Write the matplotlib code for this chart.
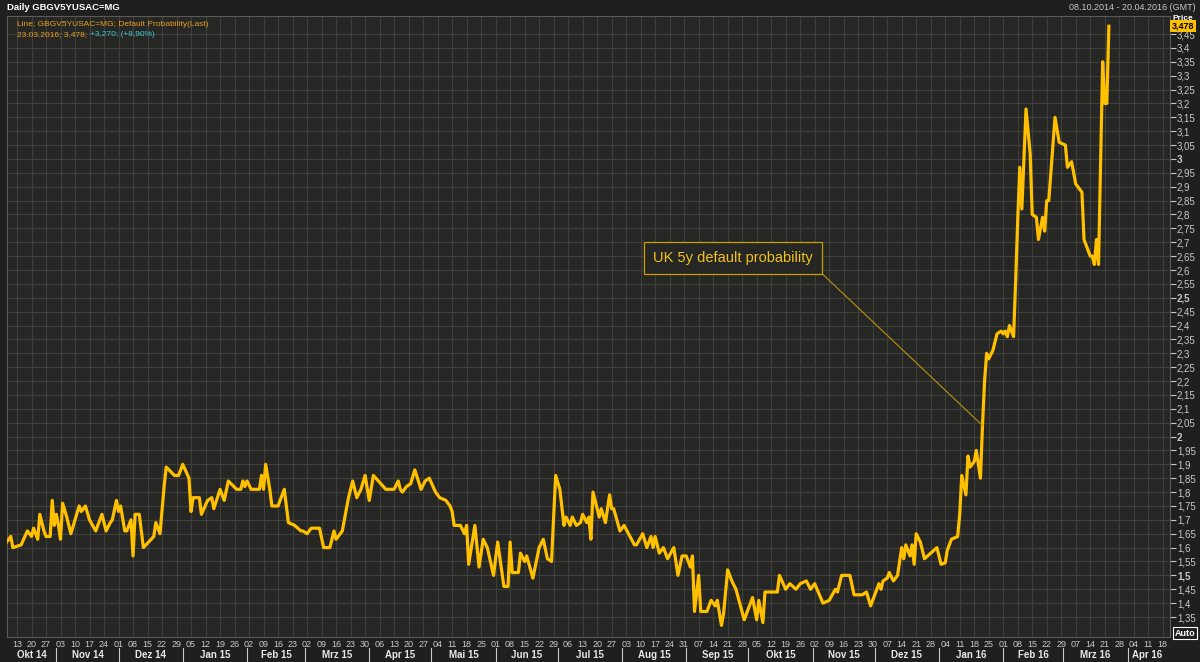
import matplotlib
matplotlib.use('Agg')
import matplotlib.pyplot as plt
import matplotlib.dates as mdates
import matplotlib.transforms as mtransforms
import numpy as np
import pandas as pd

# UK 5y CDS implied default probability
dates = [
    '2014-10-08', '2014-10-10', '2014-10-11', '2014-10-15', '2014-10-18', '2014-10-20',
    '2014-10-21', '2014-10-23', '2014-10-24', '2014-10-26', '2014-10-27', '2014-10-29',
    '2014-10-30', '2014-10-31', '2014-11-01', '2014-11-02', '2014-11-03', '2014-11-04',
    '2014-11-06', '2014-11-08', '2014-11-12', '2014-11-13', '2014-11-15', '2014-11-17',
    '2014-11-20', '2014-11-23', '2014-11-25', '2014-11-27', '2014-11-28', '2014-11-30',
    '2014-12-01', '2014-12-02', '2014-12-04', '2014-12-05', '2014-12-07', '2014-12-08',
    '2014-12-09', '2014-12-11', '2014-12-13', '2014-12-18', '2014-12-19', '2014-12-21',
    '2014-12-23', '2014-12-24', '2014-12-28', '2014-12-30', '2015-01-01', '2015-01-04',
    '2015-01-05', '2015-01-06', '2015-01-09', '2015-01-10', '2015-01-13', '2015-01-15',
    '2015-01-16', '2015-01-19', '2015-01-21', '2015-01-23', '2015-01-27', '2015-01-29',
    '2015-01-30', '2015-01-31', '2015-02-01', '2015-02-03', '2015-02-07', '2015-02-08',
    '2015-02-09', '2015-02-10', '2015-02-12', '2015-02-13', '2015-02-16', '2015-02-19',
    '2015-02-21', '2015-02-24', '2015-02-27', '2015-02-28', '2015-03-02', '2015-03-04',
    '2015-03-08', '2015-03-10', '2015-03-13', '2015-03-15', '2015-03-16', '2015-03-19',
    '2015-03-22', '2015-03-24', '2015-03-26', '2015-03-28', '2015-03-30', '2015-04-01',
    '2015-04-03', '2015-04-09', '2015-04-13', '2015-04-15', '2015-04-16', '2015-04-17',
    '2015-04-19', '2015-04-21', '2015-04-23', '2015-04-26', '2015-04-28', '2015-04-30',
    '2015-05-03', '2015-05-05', '2015-05-08', '2015-05-10', '2015-05-11', '2015-05-12',
    '2015-05-15', '2015-05-17', '2015-05-18', '2015-05-19', '2015-05-22', '2015-05-24',
    '2015-05-26', '2015-05-28', '2015-05-31', '2015-06-02', '2015-06-05', '2015-06-07',
    '2015-06-08', '2015-06-09', '2015-06-12', '2015-06-13', '2015-06-15', '2015-06-16',
    '2015-06-19', '2015-06-22', '2015-06-24', '2015-06-26', '2015-06-28', '2015-06-29',
    '2015-06-30', '2015-07-02', '2015-07-04', '2015-07-05', '2015-07-07', '2015-07-08',
    '2015-07-10', '2015-07-12', '2015-07-13', '2015-07-15', '2015-07-16', '2015-07-17',
    '2015-07-18', '2015-07-21', '2015-07-22', '2015-07-24', '2015-07-26', '2015-07-27',
    '2015-07-28', '2015-07-31', '2015-08-02', '2015-08-07', '2015-08-08', '2015-08-11',
    '2015-08-13', '2015-08-15', '2015-08-16', '2015-08-17', '2015-08-19', '2015-08-21',
    '2015-08-23', '2015-08-26', '2015-08-28', '2015-08-30', '2015-09-01', '2015-09-03',
    '2015-09-04', '2015-09-05', '2015-09-07', '2015-09-08', '2015-09-11', '2015-09-13',
    '2015-09-15', '2015-09-16', '2015-09-18', '2015-09-19', '2015-09-21', '2015-09-23',
    '2015-09-25', '2015-09-29', '2015-10-01', '2015-10-03', '2015-10-05', '2015-10-06',
    '2015-10-08', '2015-10-09', '2015-10-15', '2015-10-16', '2015-10-19', '2015-10-21',
    '2015-10-24', '2015-10-26', '2015-10-29', '2015-10-31', '2015-11-02', '2015-11-06',
    '2015-11-09', '2015-11-12', '2015-11-13', '2015-11-15', '2015-11-19', '2015-11-21',
    '2015-11-25', '2015-11-27', '2015-11-29', '2015-12-03', '2015-12-04', '2015-12-05',
    '2015-12-07', '2015-12-08', '2015-12-10', '2015-12-12', '2015-12-14', '2015-12-15',
    '2015-12-16', '2015-12-18', '2015-12-19', '2015-12-20', '2015-12-21', '2015-12-23',
    '2015-12-25', '2015-12-31', '2016-01-02', '2016-01-04', '2016-01-05', '2016-01-07',
    '2016-01-10', '2016-01-11', '2016-01-12', '2016-01-14', '2016-01-15', '2016-01-16',
    '2016-01-18', '2016-01-19', '2016-01-20', '2016-01-21', '2016-01-22', '2016-01-23',
    '2016-01-24', '2016-01-25', '2016-01-27', '2016-01-29', '2016-01-31', '2016-02-01',
    '2016-02-02', '2016-02-03', '2016-02-04', '2016-02-06', '2016-02-07', '2016-02-08',
    '2016-02-09', '2016-02-10', '2016-02-12', '2016-02-14', '2016-02-15', '2016-02-17',
    '2016-02-18', '2016-02-20', '2016-02-21', '2016-02-22', '2016-02-23', '2016-02-24',
    '2016-02-26', '2016-02-28', '2016-03-02', '2016-03-03', '2016-03-05', '2016-03-07',
    '2016-03-10', '2016-03-11', '2016-03-14', '2016-03-15', '2016-03-16', '2016-03-17',
    '2016-03-18', '2016-03-19', '2016-03-20', '2016-03-21', '2016-03-22', '2016-03-23',
]
values = [
    1.62, 1.64, 1.60, 1.61, 1.66, 1.64,
    1.67, 1.63, 1.72, 1.66, 1.64, 1.64,
    1.77, 1.68, 1.72, 1.68, 1.63, 1.76,
    1.71, 1.65, 1.75, 1.73, 1.75, 1.70,
    1.66, 1.72, 1.66, 1.69, 1.70, 1.77,
    1.73, 1.75, 1.66, 1.66, 1.70, 1.57,
    1.72, 1.72, 1.60, 1.64, 1.69, 1.65,
    1.82, 1.89, 1.86, 1.86, 1.90, 1.85,
    1.73, 1.78, 1.78, 1.72, 1.77, 1.78,
    1.74, 1.81, 1.77, 1.84, 1.81, 1.81,
    1.84, 1.82, 1.84, 1.81, 1.81, 1.86,
    1.81, 1.90, 1.81, 1.75, 1.75, 1.81,
    1.69, 1.68, 1.66, 1.66, 1.65, 1.67,
    1.67, 1.60, 1.60, 1.66, 1.63, 1.66,
    1.78, 1.84, 1.78, 1.81, 1.86, 1.77,
    1.86, 1.81, 1.81, 1.84, 1.81, 1.80,
    1.82, 1.83, 1.88, 1.81, 1.84, 1.85,
    1.80, 1.78, 1.77, 1.75, 1.73, 1.68,
    1.68, 1.65, 1.68, 1.54, 1.68, 1.53,
    1.63, 1.60, 1.50, 1.62, 1.46, 1.46,
    1.62, 1.51, 1.51, 1.58, 1.55, 1.57,
    1.49, 1.60, 1.63, 1.56, 1.55, 1.71,
    1.86, 1.81, 1.68, 1.71, 1.68, 1.71,
    1.68, 1.69, 1.72, 1.69, 1.71, 1.63,
    1.80, 1.71, 1.74, 1.69, 1.79, 1.74,
    1.74, 1.66, 1.68, 1.61, 1.61, 1.65,
    1.60, 1.64, 1.60, 1.64, 1.58, 1.60,
    1.56, 1.60, 1.50, 1.57, 1.57, 1.53,
    1.57, 1.37, 1.50, 1.37, 1.37, 1.41,
    1.39, 1.41, 1.32, 1.36, 1.52, 1.48,
    1.45, 1.34, 1.38, 1.42, 1.34, 1.41,
    1.33, 1.44, 1.44, 1.50, 1.45, 1.47,
    1.45, 1.47, 1.48, 1.45, 1.47, 1.40,
    1.41, 1.45, 1.44, 1.50, 1.50, 1.43,
    1.43, 1.44, 1.39, 1.47, 1.45, 1.48,
    1.49, 1.51, 1.48, 1.50, 1.60, 1.56,
    1.61, 1.57, 1.61, 1.54, 1.65, 1.62,
    1.56, 1.60, 1.54, 1.545, 1.59, 1.63,
    1.64, 1.72, 1.86, 1.79, 1.93, 1.89,
    1.91, 1.95, 1.90, 1.85, 2.04, 2.20,
    2.30, 2.28, 2.31, 2.37, 2.38, 2.37,
    2.38, 2.36, 2.40, 2.36, 2.56, 2.78,
    2.97, 2.82, 3.18, 3.02, 2.80, 2.79,
    2.71, 2.79, 2.74, 2.85, 2.85, 2.95,
    3.15, 3.06, 3.05, 2.97, 2.99, 2.91,
    2.88, 2.71, 2.65, 2.65, 2.62, 2.71,
    2.62, 2.99, 3.35, 3.20, 3.20, 3.478,
]

month_names = ['Okt 14', 'Nov 14', 'Dez 14', 'Jan 15', 'Feb 15', 'Mrz 15', 'Apr 15',
               'Mai 15', 'Jun 15', 'Jul 15', 'Aug 15', 'Sep 15', 'Okt 15', 'Nov 15',
               'Dez 15', 'Jan 16', 'Feb 16', 'Mrz 16', 'Apr 16']

x_start = pd.Timestamp('2014-10-08 04:00')
x_end = pd.Timestamp('2016-04-21 12:00')

FIG_BG = '#1f1f1e'
AX_BG = '#262624'
GRID = '#3f3f3c'
LINE = '#FFC000'
TXT = '#c8c8c8'
FONT = 'Liberation Sans'

plt.rcParams['font.family'] = [FONT, 'DejaVu Sans']

fig = plt.figure(figsize=(12, 6.62), dpi=100, facecolor=FIG_BG)
ax = fig.add_axes([7 / 1200, 1 - 637 / 662, 1163 / 1200, 621 / 662])
ax.set_facecolor(AX_BG)

x = pd.to_datetime(dates)
ax.plot(x, values, color=LINE, lw=2.3, solid_joinstyle='round', zorder=3)

ax.set_xlim(x_start, x_end)
ax.set_ylim(1.278, 3.515)

# right-hand price axis, every 0.05 with German decimal comma
yt = np.round(np.arange(1.35, 3.451, 0.05), 2)
ax.yaxis.tick_right()
ax.set_yticks(yt)
ax.set_yticklabels([f'{v:g}'.replace('.', ',') for v in yt])
for lab, v in zip(ax.get_yticklabels(), yt):
    if abs(v * 2 - round(v * 2)) < 1e-6:
        lab.set_fontweight('bold')
ax.tick_params(axis='y', direction='out', length=4, width=0.8, colors=TXT,
               labelsize=7, pad=1)

# weekly ticks on Mondays
mondays = pd.date_range('2014-10-13', '2016-04-18', freq='W-MON')
ax.set_xticks(mondays)
ax.set_xticklabels([d.strftime('%d') for d in mondays])
ax.tick_params(axis='x', length=0, colors=TXT, labelsize=6.5, pad=2.5)

ax.grid(True, color=GRID, lw=0.8, zorder=0)
ax.set_axisbelow(True)
for s in ax.spines.values():
    s.set_color('#5a5a58')
    s.set_linewidth(0.8)

# month row below the day numbers
trans = mtransforms.blended_transform_factory(ax.transData, ax.transAxes)
bounds = list(pd.date_range('2014-11-01', '2016-04-01', freq='MS'))
edges = [x_start] + bounds + [pd.Timestamp('2016-04-20')]
for i, name in enumerate(month_names):
    mid = edges[i] + (edges[i + 1] - edges[i]) / 2
    ax.text(mdates.date2num(mid), -0.029, name, transform=trans, ha='center',
            va='center', fontsize=7, fontweight='bold', color='#e8e8e8')
for b in bounds:
    ax.plot([mdates.date2num(b)] * 2, [-0.018, -0.045], transform=trans,
            color=TXT, lw=0.8, clip_on=False)

# header
fig.text(7 / 1200, 1 - 8 / 662, 'Daily GBGV5YUSAC=MG', color='white',
         fontweight='bold', fontsize=6.8, va='center')
fig.text(1196 / 1200, 1 - 7 / 662, '08.10.2014 - 20.04.2016 (GMT)', color=TXT,
         fontsize=6.5, va='center', ha='right')

# legend lines inside the plot
t1 = ax.text(10 / 1163, 1 - 9 / 621, 'Line; GBGV5YUSAC=MG; Default Probability(Last)',
             transform=ax.transAxes, color='#E8A020', fontsize=6, va='center')
t2 = ax.text(10 / 1163, 1 - 19 / 621, '23.03.2016; 3,478; ',
             transform=ax.transAxes, color='#E8A020', fontsize=6, va='center')
ax.annotate('+3,270; (+8,90%)', xy=(1, 0.5), xycoords=t2, va='center',
            color='#38CCD4', fontsize=6)

# last value marker on the axis, partly covering the "Price" caption
ytrans = mtransforms.blended_transform_factory(ax.transAxes, ax.transData)
ax.text(1.0025, 1.0 - 2 / 621, 'Price', transform=ax.transAxes, color='white',
        fontsize=6, fontweight='bold', ha='left', va='center', clip_on=False, zorder=4)
ax.text(1.0015, values[-1], '3,478', transform=ytrans, color='black', fontsize=6.5,
        fontweight='bold', ha='left', va='center', clip_on=False, zorder=5,
        bbox=dict(boxstyle='square,pad=0.15', fc=LINE, ec='none'))
fig.text(1185 / 1200, 1 - 633 / 662, 'Auto', color='white', fontsize=6.5,
         fontweight='bold', ha='center', va='center',
         bbox=dict(boxstyle='square,pad=0.15', fc=FIG_BG, ec='white', lw=0.8))

# callout
ax.annotate('UK 5y default probability', xy=(pd.Timestamp('2016-01-22'), 2.04),
            xytext=(0.6243, 0.6103), textcoords='axes fraction',
            ha='center', va='center', color='#F2C21B', fontsize=10.5, zorder=6,
            bbox=dict(boxstyle='square,pad=0.6', fc=AX_BG, ec='#C8A000', lw=0.9),
            arrowprops=dict(arrowstyle='-', color='#B89410', lw=0.8,
                            relpos=(1, 0), shrinkA=0, shrinkB=0))

fig.savefig('out.png', dpi=100, facecolor=FIG_BG)
